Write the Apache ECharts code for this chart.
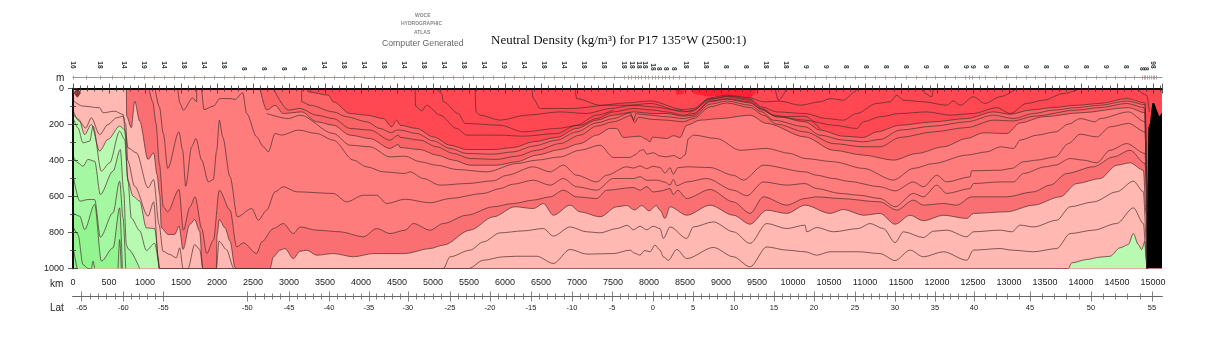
<!DOCTYPE html>
<html>
<head>
<meta charset="utf-8">
<title>Neutral Density P17</title>
<style>html,body{margin:0;padding:0;background:#fff}#chart{width:1215px;height:350px}</style>
<script src="https://cdn.jsdelivr.net/npm/echarts@6/dist/echarts.min.js"></script>
</head>
<body>
<div id="chart"></div>
<script>
// section contours, [distance km, depth m]
const d260 = [[0,0],[3250,0],[3269,19],[3547,37],[3616,74],[3848,139],[4079,148],[4310,167],[4426,213],[4496,176],[4542,204],[4773,222],[5005,269],[5237,315],[5468,339],[5838,339],[6116,328],[6394,296],[6718,272],[6996,222],[7274,176],[7505,148],[7783,130],[8060,139],[8245,139],[8478,154],[8617,148],[8848,74],[9080,59],[9404,80],[9543,111],[9728,148],[10167,185],[10376,231],[10700,265],[10978,272],[11163,241],[11488,204],[11950,185],[12413,167],[12784,130],[13016,143],[13293,120],[13617,106],[13941,93],[14265,83],[14635,56],[14890,80],[14905,300],[14915,1000]];
const d262 = [[3176,0],[3176,74],[3292,93],[3616,130],[3801,157],[4079,185],[4264,222],[4426,246],[4496,231],[4542,231],[4773,250],[5005,291],[5237,333],[5468,361],[5838,365],[6116,352],[6394,320],[6718,287],[6996,241],[7274,191],[7505,167],[7740,135],[7783,178],[7820,140],[8014,148],[8245,157],[8478,167],[8617,157],[8848,87],[9080,69],[9404,93],[9566,130],[9728,176],[10167,213],[10376,259],[10700,287],[10978,296],[11209,283],[11488,231],[11950,209],[12413,185],[12784,148],[13063,167],[13340,139],[13617,120],[13941,106],[14265,93],[14635,69],[14890,90],[14908,350],[14918,1000]];
const d264 = [[2783,0],[2991,120],[3153,111],[3385,148],[3616,167],[3848,222],[4125,231],[4403,287],[4519,259],[4542,272],[4820,287],[5052,324],[5283,361],[5514,389],[5884,394],[6162,376],[6440,343],[6764,306],[7042,259],[7274,209],[7505,185],[7760,150],[7800,190],[7850,160],[8060,172],[8245,176],[8478,185],[8617,167],[8848,102],[9080,80],[9404,106],[9589,148],[9774,198],[10167,241],[10561,306],[10978,324],[11209,324],[11488,272],[11950,241],[12413,217],[12784,176],[13063,180],[13340,154],[13941,120],[14265,106],[14635,83],[14876,106],[14910,400],[14920,1000]];
const d266 = [[2597,0],[2690,120],[2806,93],[2921,139],[3176,130],[3385,185],[3616,204],[3848,259],[4125,278],[4403,333],[4519,311],[4542,328],[4820,339],[5052,370],[5283,398],[5514,426],[5884,426],[6162,407],[6440,370],[6764,339],[7042,306],[7274,259],[7459,222],[7551,222],[7644,272],[7875,265],[7950,280],[8014,296],[8050,270],[8245,278],[8340,262],[8431,272],[8524,204],[8709,176],[8987,167],[9404,148],[9635,194],[10167,269],[10561,343],[10978,370],[11395,398],[11719,361],[12089,324],[12413,278],[12644,246],[12969,250],[13155,191],[13479,157],[13988,135],[14660,106],[14890,135],[14910,450],[14922,1000]];
const d268 = [[2690,139],[2991,167],[3153,148],[3616,250],[3848,315],[4125,324],[4403,380],[4612,376],[4820,407],[5052,426],[5329,450],[5746,463],[6162,417],[6440,398],[6764,380],[7042,343],[7320,315],[7505,383],[7736,383],[7800,370],[7880,345],[7922,339],[7970,365],[8060,357],[8150,375],[8245,380],[8340,372],[8431,389],[8500,370],[8547,278],[8617,259],[8941,278],[9265,343],[9635,333],[9959,361],[10167,389],[10561,407],[10978,444],[11395,509],[11673,444],[11950,417],[12413,370],[12691,352],[12882,324],[13063,333],[13155,287],[13391,259],[13645,241],[13826,198],[13988,167],[14195,185],[14265,167],[14660,130],[14890,185],[14912,500],[14924,1000]];
const d270 = [[1787,0],[1820,117],[1949,98],[2042,56],[2181,56],[2250,61],[2357,24],[2412,139],[2551,269],[2644,324],[2713,352],[2806,250],[2898,259],[3130,231],[3385,250],[3616,287],[3894,398],[4079,435],[4310,463],[4612,472],[4681,463],[4866,500],[5098,537],[5468,528],[5838,513],[6023,482],[6394,435],[6626,463],[6811,426],[6996,482],[7274,519],[7412,482],[7690,435],[7783,442],[7875,430],[7968,445],[8060,432],[8153,439],[8222,470],[8292,440],[8338,476],[8400,440],[8524,435],[8848,439],[9172,482],[9311,509],[9589,426],[10167,463],[10330,482],[10561,500],[10760,515],[11209,546],[11418,569],[11673,519],[11811,546],[11996,482],[12135,519],[12459,491],[12482,457],[12876,454],[13039,444],[13201,407],[13386,398],[13641,380],[13826,306],[13988,254],[14220,269],[14404,213],[14660,194],[14890,241],[14912,520],[14924,1000]];
const d271 = [[1139,0],[1199,102],[1255,250],[1315,444],[1472,241],[1523,343],[1565,543],[1648,324],[1708,278],[1787,398],[1880,519],[1949,506],[1996,343],[2033,176],[2079,269],[2181,491],[2283,713],[2482,667],[2574,732],[2690,676],[2806,574],[2921,546],[3107,574],[3616,583],[3801,630],[4033,593],[4218,593],[4357,639],[4612,615],[4959,635],[5237,611],[5700,583],[5931,556],[6107,532],[6394,509],[6626,537],[6811,500],[6996,546],[7274,565],[7505,500],[7783,500],[7875,490],[7968,510],[8106,509],[8222,520],[8292,537],[8338,505],[8385,540],[8524,519],[8802,500],[9172,565],[9358,596],[9589,519],[9913,537],[10167,528],[10330,556],[10654,583],[10922,593],[11209,611],[11418,657],[11673,583],[11811,602],[11996,537],[12135,583],[12459,556],[12506,528],[12876,519],[13063,519],[13201,472],[13503,435],[13641,426],[13849,389],[14034,398],[14220,413],[14404,343],[14635,306],[14890,361],[14912,560],[14924,1000]];
const d272 = [[1056,0],[1107,74],[1153,194],[1199,417],[1255,657],[1315,685],[1472,561],[1533,787],[1625,657],[1695,602],[1790,780],[1857,917],[1949,843],[2033,565],[2181,676],[2273,880],[2366,857],[2551,917],[2621,852],[2783,778],[2921,750],[3060,806],[3153,769],[3385,787],[3709,796],[4033,824],[4218,778],[4403,806],[4612,787],[4727,750],[4959,787],[5144,750],[5468,704],[5838,657],[6116,639],[6394,620],[6626,602],[6811,565],[6996,602],[7274,611],[7412,565],[7783,550],[7875,565],[7968,545],[8060,575],[8153,570],[8292,556],[8338,590],[8400,565],[8524,611],[8848,561],[9172,630],[9404,694],[9589,602],[9913,648],[10167,611],[10330,602],[10654,611],[11209,630],[11441,676],[11673,620],[11811,648],[12089,639],[12274,648],[12482,602],[12969,602],[13340,574],[13571,537],[13802,472],[14173,435],[14450,380],[14682,343],[14890,417],[14912,600],[14924,1000]];
const d273 = [[0,0],[741,0],[745,153],[810,218],[857,70],[926,181],[1042,394],[1120,357],[1167,478],[1204,589],[1227,774],[1320,811],[1412,811],[1473,765],[1528,894],[1620,756],[1690,728],[1759,793],[1801,1000],[1990,1000],[2001,811],[2033,728],[2111,774],[2181,848],[2250,993],[2260,1000],[2736,1000],[2783,935],[2875,898],[2945,889],[3060,945],[3153,904],[3246,898],[3385,926],[3616,917],[3894,935],[4172,917],[4612,917],[4959,889],[5144,870],[5514,787],[5838,713],[6139,657],[6394,667],[6533,639],[6672,704],[6904,648],[7042,685],[7320,713],[7551,657],[7690,650],[7800,675],[7900,650],[8000,680],[8100,650],[8153,676],[8222,722],[8292,657],[8524,704],[8848,648],[9172,704],[9404,754],[9635,676],[9913,694],[10167,648],[10515,694],[10700,672],[10978,704],[11209,694],[11418,754],[11626,704],[11811,735],[12089,704],[12413,722],[12506,694],[12969,685],[13340,648],[13710,602],[13941,528],[14265,500],[14496,426],[14682,413],[14867,454],[14905,700],[14918,1000]];
const d274 = [[0,67],[139,98],[370,107],[417,135],[579,126],[695,144],[732,256],[764,330],[880,357],[1042,552],[1120,506],[1195,756],[1250,904],[1343,922],[1435,941],[1482,885],[1528,1000],[1597,1000],[1690,867],[1759,894],[1806,1000],[1991,1000],[2028,848],[2130,894],[2236,1000],[5144,1000],[5237,935],[5514,898],[5700,852],[5931,802],[6255,791],[6533,778],[6672,820],[6904,769],[7135,796],[7320,802],[7551,778],[7700,760],[7783,785],[7875,765],[7968,785],[8060,765],[8153,778],[8199,833],[8292,769],[8524,833],[8617,769],[8894,741],[9172,796],[9404,861],[9635,750],[9913,778],[10167,759],[10191,796],[10330,772],[10561,796],[10908,778],[11070,750],[11255,778],[11418,856],[11534,796],[11811,828],[11950,793],[12135,787],[12413,824],[12506,796],[12876,787],[13039,796],[13155,759],[13340,769],[13663,732],[13849,657],[14173,630],[14496,574],[14728,515],[14867,574],[14908,850],[14918,1000]];
const d275 = [[0,122],[83,181],[176,219],[255,163],[370,256],[486,200],[602,163],[695,154],[732,200],[760,400],[857,544],[1042,709],[1120,630],[1185,944],[1200,1000],[5496,1000],[5700,954],[5977,935],[6162,932],[6440,932],[6672,972],[6904,894],[7135,920],[7505,917],[7736,898],[7800,915],[7875,926],[7940,900],[8014,907],[8083,870],[8153,898],[8199,935],[8269,954],[8385,894],[8524,945],[8894,883],[9172,935],[9404,991],[9635,880],[9913,898],[10167,907],[10330,926],[10515,907],[10908,907],[11209,917],[11418,956],[11626,898],[11811,935],[12089,907],[12413,954],[12506,898],[12876,889],[13039,898],[13340,907],[13663,889],[13849,806],[14173,787],[14496,750],[14728,663],[14867,750],[14908,950],[14915,1000]];
const d276 = [[0,144],[83,172],[162,256],[255,200],[370,348],[486,283],[648,209],[718,228],[764,515],[833,598],[926,626],[1019,774],[1134,778],[1204,1000],[13824,1000],[13870,969],[14079,950],[14264,937],[14403,932],[14542,885],[14657,867],[14727,806],[14796,867],[14843,895],[14889,848],[14912,1000]];
const d277 = [[10,172],[69,219],[139,302],[232,293],[278,209],[394,459],[509,413],[648,237],[718,283],[760,500],[810,720],[926,790],[1019,900],[1134,860],[1195,1000]];
const d278 = [[0,376],[69,413],[139,432],[208,394],[301,404],[380,589],[556,459],[657,339],[704,570],[741,867],[764,890],[926,1000]];
const d279 = [[10,500],[93,626],[208,617],[301,617],[380,826],[556,691],[648,515],[695,719],[732,1000]];
const d280 = [[0,691],[93,709],[162,783],[301,644],[394,959],[556,885],[648,663],[685,1000]];
const d281 = [[10,774],[69,811],[139,978],[208,1000],[255,1000],[278,959],[301,1000]];
const d281b = [[625,1000],[648,839],[671,1000]];
const d282 = [[10,904],[56,1000]];

// the thinner lines inside the surface layer
const upperA = [[5584,0],[5598,130],[5653,148],[5931,176],[6301,148],[6764,130],[7135,139],[7459,111],[7783,93],[8060,102],[8385,120],[8570,130],[8848,61],[9080,46],[9404,65],[9566,111],[9774,157],[10167,176],[10561,204],[10885,222],[10978,185],[11209,157],[11488,139],[11858,130],[12182,148],[12506,139],[12830,106],[13016,139],[13247,83],[13479,65],[13756,28],[13988,0]];
const upperB = [[5052,0],[5121,28],[5144,74],[5352,139],[5445,194],[5931,204],[6255,241],[6718,222],[7042,204],[7274,167],[7505,130],[7783,111],[8060,120],[8245,130],[8478,148],[8617,139],[8848,69],[9080,56],[9404,74],[9566,120],[9774,157],[10167,154],[10376,225]];
const upperC = [[4750,0],[4759,98],[4843,124],[4912,93],[5098,148],[5329,222],[5468,259],[5931,259],[6255,265],[6718,250],[6996,204],[7274,148],[7505,120]];
const upperD = [[6371,0],[6394,56],[6487,111],[6950,111],[7412,93],[7736,93],[8014,83],[8478,130],[8617,120],[8848,57],[9103,43],[9404,59],[9566,102],[9774,130],[10167,139],[10468,167],[10700,176],[10885,139],[11163,83],[11348,74],[11441,37],[11534,65],[11811,74],[12135,93],[12228,69],[12321,93],[12506,46],[12668,83],[12876,46],[13108,0]];
const upperE = [[6973,0],[6996,56],[7320,93],[7690,80],[8014,69],[8478,117],[8617,111],[8848,52],[9080,37],[9404,52],[9589,74],[9820,70],[10098,93],[10376,74],[10515,56],[10700,65],[10862,19],[10885,0]];
const loopWest = [[1454,0],[1486,83],[1533,120],[1662,52],[1718,74],[1718,0]];
const loopMid = [[9751,0],[9797,65],[9913,0]];
const loopEast = [[11811,0],[11834,28],[11927,46],[11950,0]];
const edgeEast = [[14774,0],[14913,37],[14950,130]];
const blobA = [[60,2],[100,24],[60,46],[20,24],[60,2]];
const blobB = [[60,10],[85,24],[60,38],[35,24],[60,10]];
const blobC = [[60,18],[70,24],[60,30],[50,24],[60,18]];

// lightest water at the surface, and the sea floor
const surfaceMax = [[8360,0],[8385,37],[8478,28],[8500,0],[8570,0],[8617,28],[8800,43],[9172,46],[9404,56],[9487,19],[9487,0]];
const seaFloor = [[14912,1000],[14935,218],[14958,191],[14990,80],[15018,80],[15050,117],[15087,154],[15125,135]];

const labelText = ["27.1","27.2","27","27.1","27.2","27.3","27.4","27.5","26.8","26.6","26.4","26.2","26","25.5","25","24.5","27","27.1","27.3","27.4","27.5","27.2","26.8","26.6","26.4","26.2","26"];
const labelKm = [2134,2482,5838,6107,7135,5848,6130,6301,7598,7760,7959,8199,8315,9751,10306,10746,10760,10922,10385,10779,10908,11941,12483,12830,13187,13548,13779];
const labelDepth = [281,857,513,532,615,732,782,932,380,265,187,170,143,167,167,22,515,593,670,770,907,632,365,241,167,126,111];

const stationKm = [0,375,708,986,1264,1542,1819,2097,3486,3764,4042,4320,4598,4866,5144,5422,5700,5987,6264,6542,6820,7098,7375,7653,7760,7852,7945,8509,8787,9065,9343,9620,9898,10176,10455,10732,11010,11288,11566,11844,12121,12399,12492,12677,12955,13233,13510,13788,14066,14344,14621,15000,15045];
const stationIds = ["16","18","14","19","14","18","14","18","14","18","14","18","14","18","14","18","14","19","14","18","14","18","18","18","18","18","18","18","18","8","8","18","18","9","9","8","8","8","8","9","8","9","9","9","8","9","8","9","8","9","8","98","98"];
// these stations sit a little lower in the row
const stationLowKm = [2375,2653,2931,3208,8046,8130,8231,8338,14851,14899,14946];
const stationLowIds = ["8","8","8","8","18","8","8","8","8","8","8"];
const latDeg = [-65,-60,-55,-50,-45,-40,-35,-30,-25,-20,-15,-10,-5,0,5,10,15,20,25,30,35,40,45,50,55];
const latKm = [120,699,1255,2421,3000,3555,4109,4650,5236,5790,6361,6930,7486,8055,8611,9180,9736,10292,10861,11417,11972,12514,13292,14139,14986];

const colSurface = "#ff4852";
const fills = [
  [d260, "#fb6466"],
  [d266, "#ff7c7c"],
  [d272, "#fa7072"],
  [d273, "#ffb8b2"],
  [d276, "#b8fab2"],
  [d278, "#a4f8a2"],
  [d280, "#92f590"]
];
const contours = [d260,d262,d264,d266,d268,d270,d271,d272,d273,d274,d275,d276,d277,d278,d279,d280,d281,d281b,d282,
  upperA,upperB,upperC,upperD,upperE,loopWest,loopMid,loopEast,edgeEast];
const rings = [blobA,blobB,blobC];

const FONT = "Liberation Sans";
const X_MAX = 15125;

function lineSeries(data, extra) {
  return Object.assign({
    type: "line", data: data, xAxisIndex: 0, yAxisIndex: 0,
    showSymbol: false, symbol: "none", silent: true, animation: false, clip: true,
    smooth: 0.3, smoothMonotone: "x",
    lineStyle: { width: 0 }
  }, extra);
}

const series = [];
series.push(lineSeries(surfaceMax, { z: 1, smooth: false, areaStyle: { origin: "start", color: "#ff2232", opacity: 1 } }));
fills.forEach(([data, color]) => {
  // a band that starts further east still covers the surface to its west
  const filled = data[0][0] > 0 ? [[0, 0]].concat([[data[0][0] - 1, 0]], data) : data;
  series.push(lineSeries(filled, { z: 1, areaStyle: { origin: "end", color: color, opacity: 1 } }));
});
contours.forEach((data) => {
  series.push(lineSeries(data, { z: 2, lineStyle: { width: 0.7, color: "#4a2c2c" } }));
});
rings.forEach((data) => {
  series.push(lineSeries(data, { z: 2, smooth: false, lineStyle: { width: 1.2, color: "#7a3030" } }));
});
series.push(lineSeries(seaFloor, { z: 3, smooth: false, areaStyle: { origin: "end", color: "#000", opacity: 1 } }));
series.push({
  type: "scatter", z: 4, silent: true, animation: false, symbolSize: 1,
  itemStyle: { opacity: 0 },
  data: labelText.map((t, i) => ({ name: t, value: [labelKm[i], labelDepth[i]] })),
  label: { show: true, position: "inside", formatter: "{b}", fontFamily: FONT, fontSize: 8.5, color: "#1a1a1a" }
});

// rulers above and below the plot
function ruler(position, offset, values, len, inside, lineColor, extraLabel) {
  return {
    type: "value", position: position, offset: offset, min: 0, max: X_MAX, z: 5, silent: true,
    splitLine: { show: false },
    axisLine: { show: true, lineStyle: { color: lineColor, width: 0.8 } },
    axisTick: { show: true, inside: inside, length: len, customValues: values, lineStyle: { color: lineColor, width: 0.8 } },
    axisLabel: extraLabel || { show: false }
  };
}

const stationAll = stationKm.concat(stationLowKm).sort((a, b) => a - b);
const stationTicks = stationAll.slice();
for (let i = 0; i + 1 < stationAll.length; i++) stationTicks.push((stationAll[i] + stationAll[i + 1]) / 2);
const latMinor = [];
for (let i = 0; i + 1 < latKm.length; i++) {
  if (latDeg[i] === -55) continue;
  for (let k = 1; k < 5; k++) latMinor.push(latKm[i] + (latKm[i + 1] - latKm[i]) * k / 5);
}

const stationLabel = (values, ids) => ({
  show: true, customValues: values, rotate: 90, margin: 4, fontFamily: FONT, fontSize: 6.5, fontWeight: "bold", color: "#333",
  formatter: (v) => ids[values.indexOf(v)] || ""
});

const mainAxis = (position, showLabel) => ({
  type: "value", position: position, min: 0, max: X_MAX, interval: 500, z: 5, silent: true,
  splitLine: { show: false },
  axisLine: { show: true, lineStyle: { color: "#000", width: 1.5 } },
  axisTick: { show: true, length: 5, lineStyle: { color: "#333", width: 0.8 } },
  minorTick: { show: true, splitNumber: 5, length: 3, lineStyle: { color: "#333", width: 0.8 } },
  axisLabel: showLabel ? { show: true, showMaxLabel: false, margin: 10, formatter: (v) => String(v), fontFamily: FONT, fontSize: 9, color: "#222" } : { show: false }
});

const depthAxis = (position, showLabel) => ({
  type: "value", position: position, inverse: true, min: 0, max: 1000, interval: 200, z: 5, silent: true,
  splitLine: { show: false },
  axisLine: { show: true, lineStyle: { color: "#000", width: 1.5 } },
  axisTick: { show: true, length: 5, lineStyle: { color: "#333", width: 0.8 } },
  minorTick: { show: true, splitNumber: 2, length: 3, lineStyle: { color: "#333", width: 0.8 } },
  axisLabel: showLabel ? { show: true, margin: 9, formatter: (v) => String(v), fontFamily: FONT, fontSize: 9, color: "#222" } : { show: false }
});

const xAxis = [
  mainAxis("bottom", true),
  mainAxis("top", false),
  ruler("top", 11, stationTicks, 2, false, "#a09090"),
  ruler("top", 11, stationTicks, 2, true, "#a09090"),
  ruler("top", 16, stationKm, 0, false, "rgba(0,0,0,0)", stationLabel(stationKm, stationIds)),
  ruler("top", 14, stationLowKm, 0, false, "rgba(0,0,0,0)", stationLabel(stationLowKm, stationLowIds)),
  ruler("bottom", 28, latKm, 5, false, "#666", {
    show: true, customValues: latKm, margin: 7, fontFamily: FONT, fontSize: 7.5, color: "#222",
    formatter: (v) => String(latDeg[latKm.indexOf(v)])
  }),
  ruler("bottom", 28, latKm, 5, true, "#666"),
  ruler("bottom", 28, latMinor, 3, false, "#666"),
  ruler("bottom", 28, latMinor, 3, true, "#666")
];

const textStyle = (text, x, y, font, fill) => ({
  type: "text", left: x, top: y, silent: true,
  style: { text: text, font: font, fill: fill }
});

const chart = echarts.init(document.getElementById("chart"), null, { renderer: "canvas" });
chart.setOption({
  animation: false,
  backgroundColor: "#fff",
  grid: { left: 73, right: 53, top: 88.5, bottom: 81.5, show: true, backgroundColor: colSurface, borderWidth: 0 },
  xAxis: xAxis,
  yAxis: [depthAxis("left", true), depthAxis("right", false)],
  series: series,
  graphic: [
    textStyle("WOCE", 415, 13, "bold 5px " + FONT, "#888"),
    textStyle("HYDROGRAPHIC", 401, 21, "bold 5px " + FONT, "#888"),
    textStyle("ATLAS", 414, 30, "bold 5px " + FONT, "#888"),
    textStyle("Computer Generated", 382, 39, "8.7px " + FONT, "#666"),
    textStyle("Neutral Density (kg/m\u00B3) for P17 135\u00B0W (2500:1)", 491, 34, "13px 'Liberation Serif'", "#111"),
    textStyle("m", 56, 73, "10px " + FONT, "#222"),
    textStyle("km", 50, 279, "10px " + FONT, "#222"),
    textStyle("Lat", 50, 303, "10px " + FONT, "#222")
  ]
});
</script>
</body>
</html>
